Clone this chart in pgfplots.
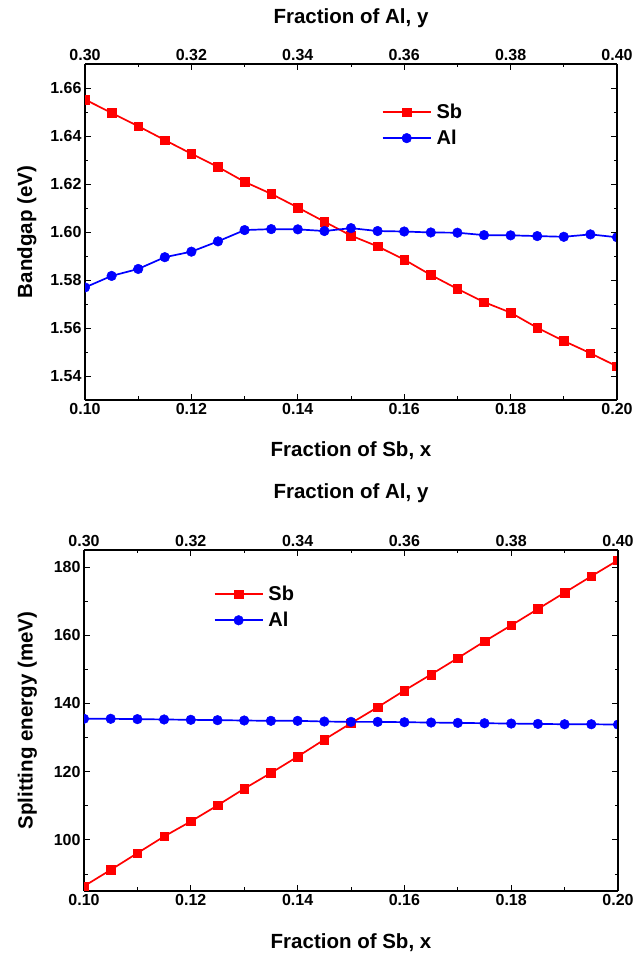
\documentclass[border=0pt]{standalone}
\usepackage{fontspec}
\setmainfont{Liberation Sans}
\usepackage{pgfplots}
\pgfplotsset{compat=1.18}
\definecolor{myred}{RGB}{255,0,0}
\definecolor{myblue}{RGB}{0,0,255}
\pgfplotsset{
  base/.style={
    scale only axis,
    clip marker paths=true,
    axis line style={line width=1.2pt},
    tick style={line width=0.8pt,black},
    major tick length=6pt,
    minor tick length=3.5pt,
    tick align=inside,
    /pgf/number format/assume math mode=true,
    tick label style={font=\bfseries\fontsize{16}{16}\selectfont},
    label style={font=\bfseries\fontsize{20.5}{21}\selectfont},
    legend style={draw=none,fill=none,font=\bfseries\fontsize{20}{21}\selectfont,
      legend cell align=left, row sep=6pt,
      nodes={inner xsep=5pt}},
    legend image code/.code={
      \draw[#1,mark repeat=2,mark phase=2] plot coordinates {(0pt,0pt) (24pt,0pt) (48pt,0pt)};},
  },
  sbstyle/.style={color=myred,line width=1.7pt,mark=square*,mark size=4.3pt,mark options={solid,fill=myred,draw=myred,line width=0.5pt}},
  alstyle/.style={color=myblue,line width=1.7pt,mark=*,mark size=4.8pt,mark options={solid,fill=myblue,draw=myblue,line width=0.5pt}},
}
\begin{document}
\begin{tikzpicture}
\path[use as bounding box] (0pt,0pt) rectangle (636pt,953pt);
% ---------------- Top panel ----------------
\begin{axis}[base,
  at={(85pt,553pt)}, anchor=south west,
  width=532pt, height=336pt,
  xmin=0.10, xmax=0.20, ymin=1.53, ymax=1.67,
  xtick={0.10,0.12,...,0.201}, minor xtick={0.11,0.13,...,0.20},
  ytick={1.54,1.56,...,1.661}, minor ytick={1.53,1.55,...,1.67},
  xticklabel style={/pgf/number format/.cd,fixed,fixed zerofill,precision=2},
  yticklabel style={/pgf/number format/.cd,fixed,fixed zerofill,precision=2},
  axis x line*=bottom, axis y line*=left,
  xlabel={Fraction of Sb, x}, ylabel={Bandgap (eV)},
  xlabel style={yshift=-20pt},
  ylabel style={yshift=7pt},
  legend style={at={(0.552,0.818)},anchor=west},
]
\addlegendimage{sbstyle}
\addlegendentry{Sb}
\addlegendimage{alstyle}
\addlegendentry{Al}
\addplot[sbstyle,forget plot] coordinates {
(0.100,1.6552)(0.105,1.6496)(0.110,1.6441)(0.115,1.6383)(0.120,1.6326)(0.125,1.6271)
(0.130,1.6209)(0.135,1.6159)(0.140,1.6102)(0.145,1.6043)(0.150,1.5985)(0.155,1.5940)
(0.160,1.5885)(0.165,1.5821)(0.170,1.5763)(0.175,1.5708)(0.180,1.5664)(0.185,1.5601)
(0.190,1.5546)(0.195,1.5495)(0.200,1.5440)};
\addplot[alstyle,forget plot] coordinates {
(0.100,1.5769)(0.105,1.5817)(0.110,1.5846)(0.115,1.5895)(0.120,1.5918)(0.125,1.5961)
(0.130,1.6008)(0.135,1.6012)(0.140,1.6011)(0.145,1.6004)(0.150,1.6016)(0.155,1.6004)
(0.160,1.6002)(0.165,1.5998)(0.170,1.5997)(0.175,1.5987)(0.180,1.5986)(0.185,1.5983)
(0.190,1.5980)(0.195,1.5990)(0.200,1.5978)};
\end{axis}
\begin{axis}[base,
  at={(85pt,553pt)}, anchor=south west,
  width=532pt, height=336pt,
  xmin=0.30, xmax=0.40, ymin=1.53, ymax=1.67,
  xtick={0.30,0.32,...,0.401}, minor xtick={0.31,0.33,...,0.40},
  ytick={1.54,1.56,...,1.661}, minor ytick={1.53,1.55,...,1.67},
  yticklabels={},
  xticklabel style={/pgf/number format/.cd,fixed,fixed zerofill,precision=2},
  axis x line*=top, axis y line*=right,
  xlabel={Fraction of Al, y},
  xlabel style={yshift=14pt},
]
\addplot[draw=none] coordinates {(0.30,1.6)};
\end{axis}
% ---------------- Bottom panel ----------------
\begin{axis}[base,
  at={(84pt,62pt)}, anchor=south west,
  width=534pt, height=341pt,
  xmin=0.10, xmax=0.20, ymin=85, ymax=185,
  xtick={0.10,0.12,...,0.201}, minor xtick={0.11,0.13,...,0.20},
  ytick={100,120,...,180}, minor ytick={90,110,...,180},
  xticklabel style={/pgf/number format/.cd,fixed,fixed zerofill,precision=2},
  axis x line*=bottom, axis y line*=left,
  xlabel={Fraction of Sb, x}, ylabel={Splitting energy (meV)},
  xlabel style={yshift=-21pt},
  ylabel style={yshift=10pt},
  legend style={at={(0.237,0.832)},anchor=west},
]
\addlegendimage{sbstyle}
\addlegendentry{Sb}
\addlegendimage{alstyle}
\addlegendentry{Al}
\addplot[sbstyle,forget plot] coordinates {
(0.100,86.4)(0.105,91.2)(0.110,96.1)(0.115,101.0)(0.120,105.4)(0.125,110.1)
(0.130,115.0)(0.135,119.6)(0.140,124.4)(0.145,129.4)(0.150,134.2)(0.155,138.9)
(0.160,143.8)(0.165,148.5)(0.170,153.3)(0.175,158.2)(0.180,162.9)(0.185,167.7)
(0.190,172.5)(0.195,177.3)(0.200,182.0)};
\addplot[alstyle,forget plot] coordinates {
(0.100,135.5)(0.105,135.5)(0.110,135.4)(0.115,135.3)(0.120,135.2)(0.125,135.1)
(0.130,135.0)(0.135,134.9)(0.140,134.9)(0.145,134.7)(0.150,134.6)(0.155,134.6)
(0.160,134.5)(0.165,134.4)(0.170,134.3)(0.175,134.2)(0.180,134.1)(0.185,134.0)
(0.190,133.9)(0.195,133.9)(0.200,133.8)};
\end{axis}
\begin{axis}[base,
  at={(84pt,62pt)}, anchor=south west,
  width=534pt, height=341pt,
  xmin=0.30, xmax=0.40, ymin=85, ymax=185,
  xtick={0.30,0.32,...,0.401}, minor xtick={0.31,0.33,...,0.40},
  ytick={100,120,...,180}, minor ytick={90,110,...,180},
  yticklabels={},
  xticklabel style={/pgf/number format/.cd,fixed,fixed zerofill,precision=2},
  axis x line*=top, axis y line*=right,
  xlabel={Fraction of Al, y},
  xlabel style={yshift=25pt},
]
\addplot[draw=none] coordinates {(0.30,130)};
\end{axis}
\end{tikzpicture}
\end{document}
